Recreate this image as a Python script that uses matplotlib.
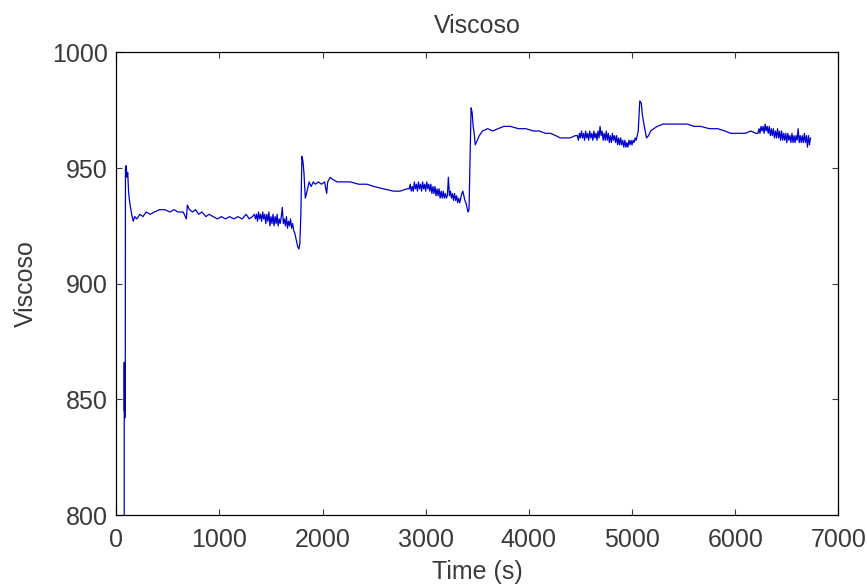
import matplotlib.pyplot as plt
import numpy as np

# viscosity log, split in pieces (time in s, value)
# start-up and first plateau
t_start = [78, 78, 80, 82, 84, 86, 88, 90, 97, 105, 112, 120, 126, 135, 150, 165, 180, 200,
           230, 260, 290, 330, 370, 420, 470, 520, 560, 600, 650, 680, 690, 710, 740, 770,
           800, 830, 870, 900, 940, 980, 1020, 1060, 1100, 1140, 1180, 1220, 1260, 1290, 1320]
v_start = [800, 866, 845, 866, 842, 862, 845, 950, 951, 946, 948, 940, 937, 934, 930, 927, 929, 928,
           930, 929, 931, 930, 931, 932, 932, 931, 932, 931, 931, 928, 934, 932, 931, 932,
           930, 931, 929, 930, 929, 928, 929, 928, 929, 928, 929, 928, 930, 928, 929]

# noisy end of plateau 1 and the dip before step 2
t_noise1 = [1340, 1350, 1360, 1370, 1380, 1390, 1400, 1410, 1420, 1430, 1440, 1450, 1460, 1470,
            1480, 1490, 1500, 1510, 1520, 1530, 1540, 1550, 1560, 1570, 1580, 1590, 1600, 1610,
            1620, 1630, 1640, 1650, 1660, 1670, 1680, 1690, 1700, 1710, 1720, 1730, 1740, 1750,
            1760, 1770, 1780, 1790]
v_noise1 = [930, 928, 930, 927, 931, 928, 930, 927, 931, 928, 930, 926, 930, 927,
            931, 925, 929, 926, 930, 925, 929, 926, 930, 925, 928, 926, 929, 933,
            926, 928, 925, 929, 924, 927, 925, 928, 924, 926, 923, 922, 920, 918,
            916, 915, 917, 930]

# step 2 and second plateau
t_step2 = [1800, 1810, 1820, 1833, 1850, 1870, 1890, 1910, 1930, 1960, 1990, 2020, 2040,
           2050, 2075, 2100, 2143, 2200, 2270, 2350, 2430, 2500, 2590, 2690, 2750, 2820]
v_step2 = [955, 953, 948, 937, 940, 944, 942, 944, 943, 944, 943, 944, 939,
           944, 946, 945, 944, 944, 944, 943, 943, 942, 941, 940, 940, 941]

t_noise2 = [2840, 2850, 2860, 2870, 2880, 2890, 2900, 2910, 2920, 2930, 2940, 2950, 2960, 2970,
            2980, 2990, 3000, 3010, 3020, 3030, 3040, 3050, 3060, 3070, 3080, 3090, 3100, 3110,
            3120, 3130, 3140, 3150, 3160, 3170, 3180, 3190, 3200, 3210, 3220, 3230, 3240, 3250,
            3260, 3270, 3280, 3290, 3300, 3310, 3320, 3330, 3340, 3350, 3360, 3370, 3380, 3390,
            3400, 3410, 3420]
v_noise2 = [941, 943, 940, 942, 940, 944, 941, 943, 940, 944, 941, 943, 940, 944,
            941, 943, 940, 944, 941, 943, 940, 943, 939, 942, 939, 942, 938, 941,
            938, 941, 937, 940, 937, 940, 937, 939, 937, 938, 946, 938, 940, 937,
            939, 936, 939, 936, 938, 935, 937, 935, 937, 939, 940, 938, 936, 935,
            933, 931, 932]

# step 3 and third plateau
t_step3 = [3440, 3450, 3460, 3470, 3480, 3500, 3520, 3550, 3600, 3650, 3700, 3760, 3820,
           3900, 3970, 4045, 4100, 4160, 4210, 4260, 4305, 4400, 4450]
v_step3 = [976, 974, 968, 965, 960, 962, 964, 966, 967, 966, 967, 968, 968,
           967, 967, 966, 966, 965, 965, 964, 963, 963, 964]

t_noise3 = [4470, 4480, 4490, 4500, 4510, 4520, 4530, 4540, 4550, 4560, 4570, 4580, 4590, 4600,
            4610, 4620, 4630, 4640, 4650, 4660, 4670, 4680, 4690, 4700, 4710, 4720, 4730, 4740,
            4750, 4760, 4770, 4780, 4790, 4800, 4810, 4820, 4830, 4840, 4850, 4860, 4870, 4880,
            4890, 4900, 4910, 4920, 4930, 4940, 4950, 4960, 4970, 4980, 4990, 5000, 5010, 5020,
            5030, 5040, 5050, 5060]
v_noise3 = [964, 962, 965, 963, 966, 963, 965, 962, 966, 963, 965, 962, 966, 963,
            965, 962, 966, 963, 965, 962, 966, 963, 968, 964, 966, 962, 965, 962,
            966, 962, 965, 961, 964, 961, 965, 962, 964, 961, 964, 960, 963, 960,
            963, 960, 962, 959, 962, 959, 961, 959, 962, 960, 962, 960, 962, 961,
            963, 962, 964, 966]

# step 4 and last plateau
t_step4 = [5075, 5090, 5100, 5115, 5140, 5160, 5180, 5210, 5245, 5300, 5340, 5400, 5470, 5535,
           5600, 5665, 5750, 5830, 5900, 5955, 6000, 6050, 6100, 6150, 6200]
v_step4 = [979, 978, 973, 969, 963, 964, 966, 967, 968, 969, 969, 969, 969, 969,
           968, 968, 967, 967, 966, 965, 965, 965, 965, 966, 965]

t_noise4 = [6220, 6230, 6240, 6250, 6260, 6270, 6280, 6290, 6300, 6310, 6320, 6330, 6340, 6350,
            6360, 6370, 6380, 6390, 6400, 6410, 6420, 6430, 6440, 6450, 6460, 6470, 6480, 6490,
            6500, 6510, 6520, 6530, 6540, 6550, 6560, 6570, 6580, 6590, 6600, 6610, 6620, 6630,
            6640, 6650, 6660, 6670, 6680, 6690, 6700, 6710, 6720, 6730]
v_noise4 = [965, 967, 965, 968, 966, 968, 965, 969, 966, 968, 965, 968, 964, 967,
            964, 967, 963, 966, 963, 967, 963, 966, 962, 966, 962, 965, 962, 965,
            961, 965, 962, 964, 961, 965, 961, 964, 961, 964, 962, 967, 961, 964,
            961, 964, 961, 965, 961, 964, 959, 964, 960, 963]

time_s = t_start + t_noise1 + t_step2 + t_noise2 + t_step3 + t_noise3 + t_step4 + t_noise4
viscoso = v_start + v_noise1 + v_step2 + v_noise2 + v_step3 + v_noise3 + v_step4 + v_noise4

x_ticks = np.arange(0, 7001, 1000)
y_ticks = np.arange(800, 1001, 50)

plt.rcParams['font.family'] = ['Liberation Sans', 'DejaVu Sans']
txt_col = '#3a3a3a'
fig = plt.figure(figsize=(8.67, 5.88), dpi=100)
ax = fig.add_axes([0.134, 0.124, 0.833, 0.787])

ax.plot(time_s, viscoso, color='#0000cc', lw=0.9)

# matlab look: box, ticks inside on all sides
ax.set_xlim(0, 7000)
ax.set_ylim(800, 1000)
ax.set_xticks(x_ticks)
ax.set_yticks(y_ticks)
ax.tick_params(direction='in', top=True, right=True, length=4.5, width=0.8,
               labelsize=18, colors=txt_col)
ax.tick_params(axis='x', pad=9)
ax.tick_params(axis='y', pad=6)
for s in ax.spines.values():
    s.set_linewidth(0.9)

ax.set_title('Viscoso', fontsize=18, color=txt_col, pad=14)
ax.set_xlabel('Time (s)', fontsize=18, color=txt_col, labelpad=6)
ax.set_ylabel('Viscoso', fontsize=18, color=txt_col, labelpad=10)

fig.savefig('out.png', dpi=100)
